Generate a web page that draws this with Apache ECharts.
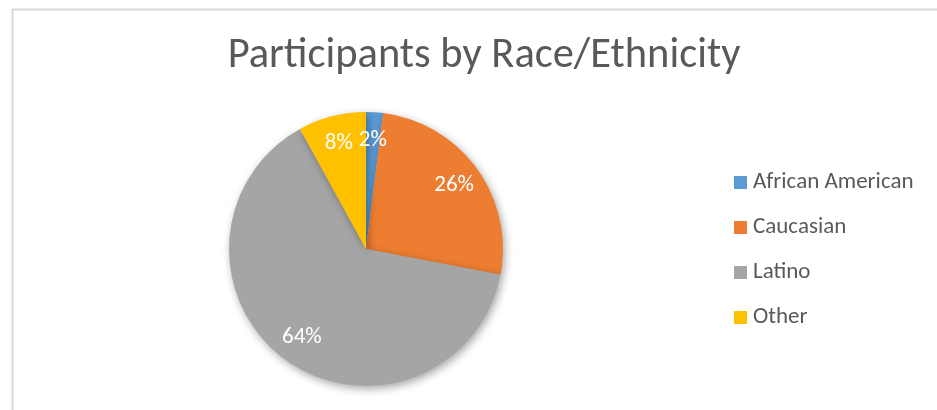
<!DOCTYPE html>
<html><head><meta charset="utf-8">
<script src="https://cdn.jsdelivr.net/npm/echarts@6/dist/echarts.min.js"></script>
<style>html,body{margin:0;padding:0;background:#fff}#c{width:937px;height:410px}</style>
</head><body><div id="c"></div>
<script>
const categories = ['African American', 'Caucasian', 'Latino', 'Other'];
const values = [2, 26, 64, 8];
const colors = ['#5B9BD5', '#ED7D31', '#A5A5A5', '#FFC000'];
const titleText = 'Participants by Race/Ethnicity';

const chart = echarts.init(document.getElementById('c'), null, {renderer: 'canvas'});
const data = categories.map((n, i) => ({name: n, value: values[i], itemStyle: {color: colors[i]}}));
const fontFam = 'Carlito, Calibri, "Open Sans", "Noto Sans", sans-serif';
chart.setOption({
  animation: false,
  title: {
    text: titleText, left: 479, top: 30, textAlign: 'center',
    textStyle: {fontFamily: fontFam, fontSize: 42.5, fontWeight: 'normal', color: '#595959'}
  },
  legend: {
    orient: 'vertical', left: 734, top: 171, padding: 0,
    itemWidth: 13, itemHeight: 13, itemGap: 22, icon: 'rect',
    data: categories,
    textStyle: {fontFamily: fontFam, fontSize: 23, color: '#595959', lineHeight: 23, padding: [0,0,0,1]}
  },
  graphic: [{
    type: 'rect', left: 10, top: 7, silent: true,
    shape: {x: 0, y: 0, width: 1000, height: 500},
    style: {fill: 'none', stroke: '#d9d9d9', lineWidth: 2}
  }],
  series: [{
    type: 'pie', center: [366, 249], radius: [0, 137], startAngle: 90, clockwise: true,
    silent: true,
    itemStyle: {shadowBlur: 8, shadowColor: 'rgba(0,0,0,0.35)', shadowOffsetX: 2, shadowOffsetY: 3},
    label: {show: false}, labelLine: {show: false},
    data: data
  }, {
    type: 'pie', center: [366, 249], radius: [0, 212], startAngle: 90, clockwise: true,
    silent: true, z: 5,
    itemStyle: {color: 'rgba(0,0,0,0)'},
    label: {show: true, position: 'inside', formatter: '{c}%', color: '#fff',
            fontFamily: fontFam, fontSize: 23, textBorderWidth: 0},
    labelLine: {show: false},
    data: categories.map((n, i) => ({name: n, value: values[i], itemStyle: {color: 'rgba(0,0,0,0)'}}))
  }]
});
</script></body></html>
